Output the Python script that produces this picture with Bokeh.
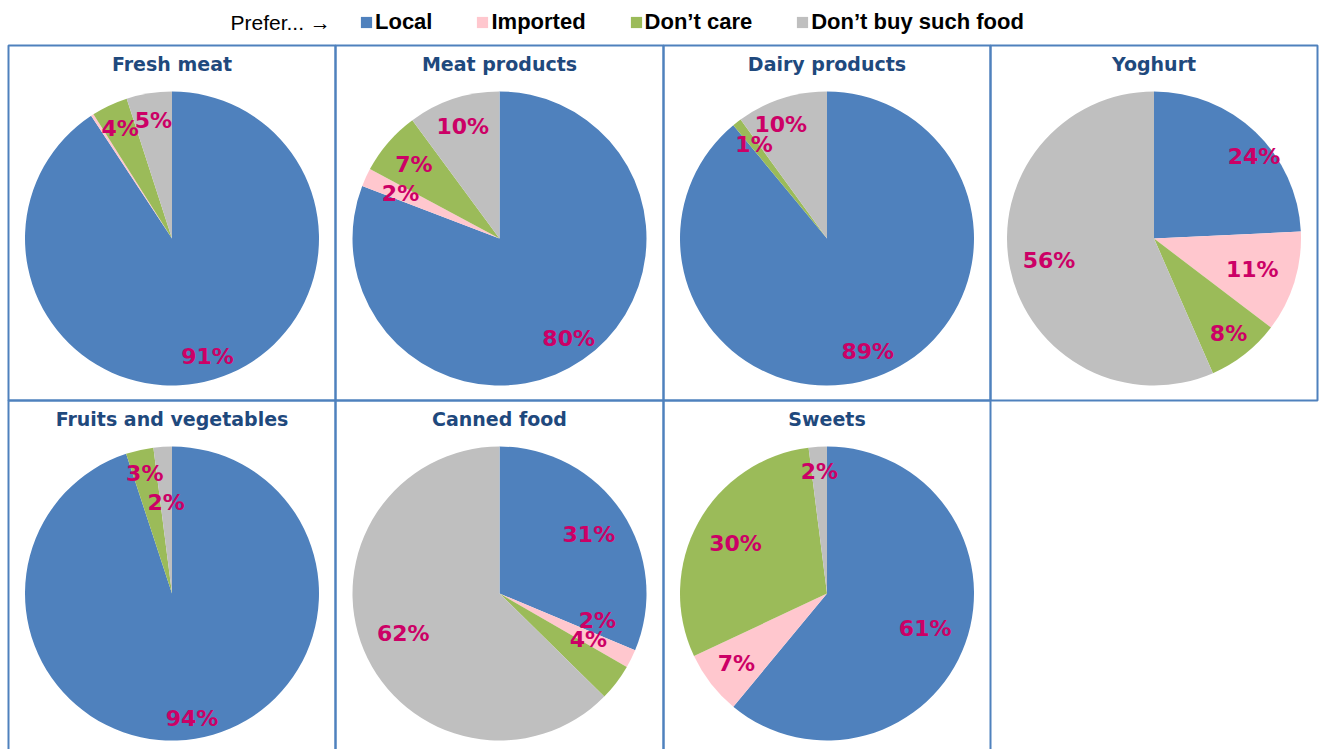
import math
from bokeh.plotting import figure
from bokeh.models import Range1d, Legend, LegendItem, Label, ColumnDataSource
from bokeh.core.properties import value
from bokeh.embed import file_html
from bokeh.resources import INLINE

# ---------------- data ----------------
categories = ["Local", "Imported", "Don\u2019t care", "Don\u2019t buy such food"]
foods = ["Fresh meat", "Meat products", "Dairy products", "Yoghurt",
         "Fruits and vegetables", "Canned food", "Sweets"]
local = [91, 80, 89, 24, 94, 31, 61]
imported = [0.3, 2, 0, 11, 0, 2, 7]
dont_care = [4, 7, 1, 8, 3, 4, 30]
dont_buy = [5, 10, 10, 56, 2, 62, 2]

colors = ["#4F81BD", "#FFC7CE", "#9BBB59", "#BFBFBF"]
label_color = "#CC0066"
title_color = "#1F497D"
border_color = "#4F81BD"

# ---------------- layout / style ----------------
W, H = 1319, 749
col_edges = [8, 335, 663, 990, 1317]
row_tops = [45, 400]
row_bottoms = [400, 760]
pie_dy = 193
radius = 147
title_dy = 18
# radial position of each value label (fraction of radius) and small angular nudges (deg)
label_r = [
    [0.84, 0.0, 0.83, 0.81],
    [0.83, 0.74, 0.77, 0.80],
    [0.82, 0.0, 0.81, 0.84],
    [0.88, 0.70, 0.82, 0.73],
    [0.86, 0.0, 0.84, 0.62],
    [0.73, 0.69, 0.68, 0.71],
    [0.71, 0.78, 0.71, 0.83],
]
label_nudge = [
    [0, 0, 0, 0],
    [0, 0, 0, 0],
    [0, 0, 0, -4],
    [7, 0, 0, 0],
    [0, 0, 0, 0],
    [0, -11, -10, 0],
    [0, 0, 0, 0],
]


def ypix(y):
    return H - y


p = figure(width=W, height=H, x_range=Range1d(0, W), y_range=Range1d(0, H),
           output_backend="svg", toolbar_location=None, min_border=0,
           x_axis_location=None, y_axis_location=None)
p.grid.visible = False
p.outline_line_color = None
p.background_fill_color = "white"

# panel borders
bl, br, bt, bb = [], [], [], []
for i in range(len(foods)):
    r, c = divmod(i, 4)
    bl.append(col_edges[c]); br.append(col_edges[c + 1])
    bt.append(ypix(row_tops[r])); bb.append(ypix(row_bottoms[r]))
p.quad(left=bl, right=br, top=bt, bottom=bb, fill_color=None,
       line_color=border_color, line_width=2)

# wedges
wx, wy, ws, we, wc, wcat = [], [], [], [], [], []
tx, ty, tt = [], [], []
lx, ly, lt = [], [], []
legend_index = {}
for i, food in enumerate(foods):
    r, c = divmod(i, 4)
    cx = (col_edges[c] + col_edges[c + 1]) / 2
    cy = ypix(row_tops[r] + pie_dy)
    vals = [local[i], imported[i], dont_care[i], dont_buy[i]]
    total = sum(vals)
    cum = 0.0
    for k, v in enumerate(vals):
        f0 = cum / total
        cum += v
        f1 = cum / total
        if v <= 0:
            continue
        if i == 0:
            legend_index[k] = len(wx)
        wx.append(cx); wy.append(cy)
        ws.append(math.pi / 2 - 2 * math.pi * f0)
        we.append(math.pi / 2 - 2 * math.pi * f1)
        wc.append(colors[k]); wcat.append(categories[k])
        if round(v) >= 1:
            mid = math.pi / 2 - 2 * math.pi * (f0 + f1) / 2 - math.radians(label_nudge[i][k])
            rr = radius * label_r[i][k]
            lx.append(cx + rr * math.cos(mid))
            ly.append(cy + rr * math.sin(mid))
            lt.append(f"{round(v)}%")
    tx.append(cx); ty.append(ypix(row_tops[r] + title_dy)); tt.append(food)

src = ColumnDataSource(dict(x=wx, y=wy, s=ws, e=we, color=wc, cat=wcat))
wr = p.wedge(x="x", y="y", radius=radius, start_angle="s", end_angle="e",
             direction="clock", fill_color="color", line_color=None, source=src)

p.text(x=lx, y=ly, text=lt, text_align="center", text_baseline="middle",
       text_font=value("DejaVu Sans"), text_font_style="bold",
       text_font_size="22px", text_color=label_color)

p.text(x=tx, y=ty, text=tt, text_align="center", text_baseline="middle",
       text_font=value("DejaVu Sans"), text_font_style="bold",
       text_font_size="19px", text_color=title_color)

# legend
items = [LegendItem(label=categories[k], renderers=[wr], index=legend_index[k])
         for k in range(4)]
legend = Legend(items=items, orientation="horizontal", location=(359, H - 35),
                glyph_width=14, glyph_height=14, label_standoff=2, spacing=43,
                padding=0, margin=0, border_line_color=None,
                background_fill_alpha=0, label_text_font="Liberation Sans",
                label_text_font_style="bold", label_text_font_size="22px",
                label_text_color="black", label_height=24)
p.add_layout(legend, "center")

p.add_layout(Label(x=230, y=ypix(22), text="Prefer... \u2192", text_baseline="middle",
                   text_font="Liberation Sans", text_font_size="21px",
                   text_color="black"))

open("out.html", "w").write(file_html(p, INLINE))
